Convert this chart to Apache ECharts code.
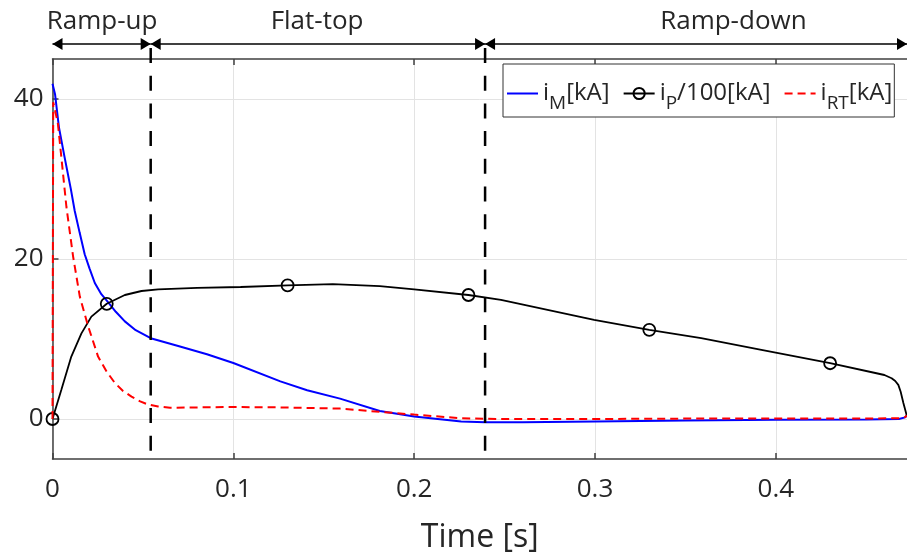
<!DOCTYPE html>
<html>
<head>
<meta charset="utf-8">
<script src="https://cdn.jsdelivr.net/npm/echarts@6/dist/echarts.min.js"></script>
<style>
  html, body { margin: 0; padding: 0; background: #fff; }
  #chart { width: 907px; height: 554px; }
</style>
</head>
<body>
<div id="chart"></div>
<script>
// Magnet current i_M [kA]
const mTime = [0, 0.0014, 0.0036, 0.0067, 0.0101, 0.0123, 0.0150, 0.0178, 0.0205, 0.0234, 0.0270,
  0.0307, 0.0350, 0.0400, 0.0460, 0.0543, 0.0700, 0.0854, 0.1000, 0.1260, 0.1408, 0.1590, 0.1810,
  0.2000, 0.2260, 0.2392, 0.2600, 0.3000, 0.3500, 0.4000, 0.4500, 0.4680, 0.4715, 0.4725];
const mValues = [41.9, 40.6, 36.4, 32.7, 28.8, 26.0, 23.3, 20.6, 18.8, 17.0, 15.6,
  14.6, 13.4, 12.2, 11.1, 10.1, 9.1, 8.1, 7.0, 4.7, 3.6, 2.55, 1.0,
  0.3, -0.3, -0.42, -0.4, -0.3, -0.2, -0.1, -0.05, 0.0, 0.2, 0.5];

// Plasma current i_P/100 [kA]
const pTime = [0, 0.0049, 0.0104, 0.0160, 0.0215, 0.0300, 0.0400, 0.0492, 0.0584, 0.0800, 0.1040,
  0.1300, 0.1550, 0.1810, 0.2000, 0.2300, 0.2480, 0.2995, 0.3300, 0.3587, 0.3920, 0.4300,
  0.4550, 0.4600, 0.4640, 0.4660, 0.4677, 0.4690, 0.4705, 0.4718, 0.4725];
const pValues = [0, 3.65, 7.8, 10.7, 12.8, 14.4, 15.5, 16.0, 16.2, 16.4, 16.5,
  16.7, 16.85, 16.6, 16.2, 15.5, 14.9, 12.4, 11.15, 10.1, 8.65, 6.97,
  5.75, 5.5, 5.1, 4.75, 4.27, 3.4, 2.0, 0.9, 0.3];
const pMarkerTimes = [0, 0.03, 0.13, 0.23, 0.33, 0.43];

// Current i_RT [kA]
const rtTime = [0, 0.0004, 0.0012, 0.0030, 0.0049, 0.0077, 0.0114, 0.0151, 0.0197, 0.0252, 0.0300,
  0.0345, 0.0390, 0.0437, 0.0485, 0.0529, 0.0584, 0.0650, 0.0800, 0.1000, 0.1260, 0.1590,
  0.1810, 0.2000, 0.2260, 0.2480, 0.3000, 0.3500, 0.4000, 0.4500, 0.4680, 0.4715, 0.4725];
const rtValues = [0, 39.6, 38.8, 36.9, 32.7, 26.5, 20.3, 15.3, 11.6, 7.8, 5.9,
  4.5, 3.5, 2.8, 2.2, 1.8, 1.57, 1.4, 1.45, 1.5, 1.45, 1.3,
  0.9, 0.55, 0.1, 0.0, 0.0, 0.05, 0.05, 0.05, 0.1, 0.25, 0.45];

// Operating phases
const phaseNames = ['Ramp-up', 'Flat-top', 'Ramp-down'];
const phaseStart = [0, 0.0543, 0.2392];
const phaseEnd = [0.0543, 0.2392, 0.4725];
const phaseLabelAt = [0.0274, 0.1463, 0.3765];

// Axes
const xTicks = [0, 0.1, 0.2, 0.3, 0.4];
const yTicks = [0, 20, 40];
const X_MIN = 0, X_MAX = 0.4725, Y_MIN = -5, Y_MAX = 45;

const seriesNames = ['i_M[kA]', 'i_P/100[kA]', 'i_RT[kA]'];
const seriesHasMarker = [false, true, false];

const FONT = "'Open Sans', sans-serif";
const AXIS_COLOR = '#404040';
const TEXT_COLOR = '#262626';
const GRID_COLOR = '#e3e3e3';

const pair = (ts, vs) => ts.map((t, i) => [t, vs[i]]);

// Only the marked samples of i_P carry a circle
const pData = pTime.map((t, i) =>
  pMarkerTimes.includes(t) ? [t, pValues[i]] : { value: [t, pValues[i]], symbol: 'none' });

// "i_M[kA]" -> i with subscript M
const legendLabel = name => name.replace(/^i_([A-Z]+)(.*)$/, '{n|i}{s|$1}{n|$2}');

function renderPhase(params, api) {
  const i = params.dataIndex;
  const s = api.value(0), e = api.value(1), l = api.value(2);
  const topLeft = api.coord([s, Y_MAX]);
  const xs = topLeft[0], top = topLeft[1];
  const xe = api.coord([e, Y_MAX])[0];
  const xl = api.coord([l, Y_MAX])[0];
  const bottom = api.coord([s, Y_MIN])[1];
  const ay = top - 15;
  const head = (tip, dir) => ({
    type: 'polygon',
    shape: { points: [[tip, ay], [tip - dir * 10, ay - 6], [tip - dir * 10, ay + 6]] },
    style: { fill: '#000' }
  });
  const children = [
    { type: 'line', shape: { x1: xs, y1: ay, x2: xe, y2: ay }, style: { stroke: '#000', lineWidth: 1.5 } },
    head(xs, -1),
    head(xe, 1),
    {
      type: 'text', x: xl, y: top - 37,
      style: { text: phaseNames[i], fill: TEXT_COLOR, fontSize: 26, fontFamily: FONT, align: 'center', verticalAlign: 'middle' }
    }
  ];
  if (e < X_MAX) {
    children.push({
      type: 'line',
      shape: { x1: xe, y1: ay + 4, x2: xe, y2: bottom - 8 },
      style: { stroke: '#000', lineWidth: 2.5, lineDash: [15, 12.7] }
    });
  }
  return { type: 'group', children };
}

const chart = echarts.init(document.getElementById('chart'), null, { renderer: 'canvas' });

const axisLine = { show: true, onZero: false, lineStyle: { color: AXIS_COLOR, width: 1.5 } };
const tickStyle = { color: AXIS_COLOR, width: 1.5 };

chart.setOption({
  animation: false,
  backgroundColor: '#fff',
  grid: { left: 52.5, right: 0, top: 59, bottom: 95, outerBoundsMode: 'none' },
  legend: {
    // plain lines carry no symbol in their legend icon
    data: seriesNames.map((name, i) => seriesHasMarker[i] ? name : { name, itemStyle: { opacity: 0 } }),
    left: 503, top: 64,
    orient: 'horizontal',
    backgroundColor: '#fff',
    borderColor: '#333',
    borderWidth: 1,
    borderRadius: 0,
    padding: [10, 2, 4, 3],
    itemGap: 13,
    itemWidth: 31,
    itemHeight: 14,
    selectedMode: false,
    formatter: legendLabel,
    textStyle: {
      rich: {
        n: { fontSize: 24, fontFamily: FONT, color: TEXT_COLOR, lineHeight: 25, verticalAlign: 'top' },
        s: { fontSize: 19, fontFamily: FONT, color: TEXT_COLOR, lineHeight: 19, padding: [20, 0, 0, 0] }
      }
    }
  },
  xAxis: [{
    type: 'value', min: X_MIN, max: X_MAX, interval: 0.1,
    axisLine: axisLine,
    axisTick: { show: true, inside: true, length: 6, customValues: xTicks, lineStyle: tickStyle },
    axisLabel: { customValues: xTicks, margin: 18, fontSize: 26, fontFamily: FONT, color: TEXT_COLOR, formatter: v => String(v) },
    splitLine: { show: true, lineStyle: { color: GRID_COLOR, width: 1 } },
    name: 'Time [s]', nameLocation: 'middle', nameGap: 63,
    nameTextStyle: { fontSize: 32, fontFamily: FONT, color: TEXT_COLOR }
  }, {
    type: 'value', position: 'top', min: X_MIN, max: X_MAX, interval: 0.1,
    axisLine: axisLine,
    axisTick: { show: true, inside: true, length: 6, customValues: xTicks, lineStyle: tickStyle },
    axisLabel: { show: false },
    splitLine: { show: false }
  }],
  yAxis: [{
    type: 'value', min: Y_MIN, max: Y_MAX,
    axisLine: axisLine,
    axisTick: { show: true, inside: true, length: 6, customValues: yTicks, lineStyle: tickStyle },
    axisLabel: { customValues: yTicks, margin: 9, fontSize: 26, fontFamily: FONT, color: TEXT_COLOR },
    splitLine: { show: true, lineStyle: { color: GRID_COLOR, width: 1 } }
  }],
  series: [
    {
      name: seriesNames[0], type: 'line', data: pair(mTime, mValues),
      symbol: 'none', showSymbol: false,
      lineStyle: { color: '#0000ff', width: 2 }, itemStyle: { color: '#0000ff' }, z: 3
    },
    {
      name: seriesNames[1], type: 'line', data: pData,
      symbol: 'circle', symbolSize: 12, showSymbol: true, showAllSymbol: true,
      lineStyle: { color: '#000', width: 1.8 },
      itemStyle: { color: 'rgba(0,0,0,0)', borderColor: '#000', borderWidth: 1.8 }, z: 4
    },
    {
      name: seriesNames[2], type: 'line', data: pair(rtTime, rtValues),
      symbol: 'none', showSymbol: false,
      lineStyle: { color: '#ff0000', width: 2, type: [8, 5] }, itemStyle: { color: '#ff0000' }, z: 5
    },
    {
      name: 'phases', type: 'custom', renderItem: renderPhase, clip: false, silent: true, z: 6,
      data: phaseStart.map((s, i) => [s, phaseEnd[i], phaseLabelAt[i]])
    }
  ]
});
</script>
</body>
</html>
